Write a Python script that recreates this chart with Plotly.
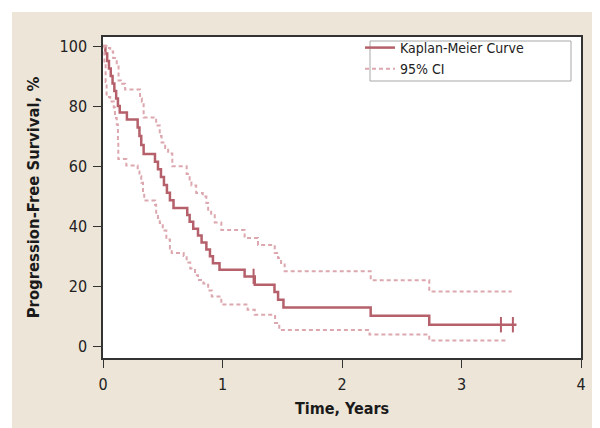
import plotly.graph_objects as go

# ---- data ----
km_time = [0, 0.02, 0.035, 0.05, 0.065, 0.08, 0.095, 0.11, 0.125, 0.14, 0.20,
           0.29, 0.305, 0.32, 0.34, 0.435, 0.46, 0.485, 0.51, 0.535, 0.56, 0.59,
           0.705, 0.725, 0.755, 0.795, 0.825, 0.865, 0.895, 0.92, 0.975,
           1.185, 1.27, 1.435, 1.465, 1.51, 2.24, 2.73, 3.46]
km_surv = [100, 97.5, 95, 92.5, 90, 87.5, 85, 82.5, 80, 77.8, 75.5,
           72.8, 70, 67, 64, 61.4, 58.9, 56.3, 53.7, 51.1, 48.6, 46,
           43.7, 41.4, 39.1, 36.8, 34.5, 32.2, 29.9, 27.6, 25.4,
           23.2, 20.4, 18, 15.4, 12.8, 10.1, 7.1, 7.1]

upper_time = [0, 0.03, 0.06, 0.085, 0.10, 0.115, 0.13, 0.15, 0.185, 0.31, 0.325, 0.34,
              0.445, 0.475, 0.49, 0.52, 0.545, 0.58, 0.70, 0.725, 0.74, 0.78, 0.835,
              0.865, 0.88, 0.905, 0.935, 0.99, 1.185, 1.297, 1.437, 1.465, 1.49, 1.52,
              2.24, 2.73, 3.42]
upper_surv = [100, 99.3, 98.2, 96, 95.3, 93.7, 88.5, 87.4, 85.5, 82.6, 81.4, 76.2,
              73.5, 70, 67.8, 66, 64.2, 59.9, 57.3, 55.5, 53.5, 51, 49.8,
              47.7, 45.4, 43.6, 41.2, 38.7, 36, 33.7, 31, 29.3, 27.2, 24.9,
              21.9, 18.2, 18.2]

lower_time = [0, 0.012, 0.022, 0.03, 0.06, 0.09, 0.10, 0.115, 0.125, 0.128, 0.195,
              0.29, 0.305, 0.32, 0.335, 0.345, 0.435, 0.445, 0.46, 0.475, 0.50,
              0.53, 0.56, 0.575, 0.675, 0.70, 0.73, 0.77, 0.795, 0.84, 0.88, 0.91,
              0.99, 1.21, 1.27, 1.44, 1.475, 2.23, 2.73, 3.39]
lower_surv = [100, 94, 88, 83, 81.5, 79.5, 76, 73.8, 68, 62.3, 60.2,
              58.2, 56.6, 54.4, 51, 48.5, 47.1, 44.4, 42.7, 41, 38.5,
              35.5, 32.5, 31, 30, 27.8, 25.8, 23.6, 22, 20.8, 18.5, 16.5,
              13.8, 12.1, 10.4, 7.7, 5.3, 3.8, 1.8, 1.8]

censor_time = [1.26, 3.33, 3.43]
censor_surv = [23.2, 7.1, 7.1]

x_ticks = [0, 1, 2, 3, 4]
y_ticks = [0, 20, 40, 60, 80, 100]

solid_col = "#B5606B"
dash_col = "#DCA7AE"
beige = "#EDE5D7"
FONT = "Liberation Sans Narrow, DejaVu Sans Condensed, Arial Narrow, sans-serif"

fig = go.Figure()
fig.add_trace(go.Scatter(x=km_time, y=km_surv, mode="lines", line_shape="hv",
                         line=dict(color=solid_col, width=2.5),
                         name="Kaplan-Meier Curve"))
fig.add_trace(go.Scatter(x=upper_time, y=upper_surv, mode="lines", line_shape="hv",
                         line=dict(color=dash_col, width=2, dash="4px,3px"),
                         name="95% CI", legendgroup="ci"))
fig.add_trace(go.Scatter(x=lower_time, y=lower_surv, mode="lines", line_shape="hv",
                         line=dict(color=dash_col, width=2, dash="4px,3px"),
                         name="95% CI", legendgroup="ci", showlegend=False))
fig.add_trace(go.Scatter(x=censor_time, y=censor_surv, mode="markers",
                         marker=dict(symbol="line-ns", size=11,
                                     line=dict(color=solid_col, width=2)),
                         showlegend=False, hoverinfo="skip"))

# plot geometry in pixels
L, R, T, B = 95, 573, 29, 350
W, H = 600, 428
pw, ph = R - L, B - T
def px_x(p):
    return (p - L) / pw
def px_y(p):
    return (B - p) / ph

shapes = [
    dict(type="rect", xref="paper", yref="paper", layer="below",
         x0=px_x(4), x1=px_x(596), y0=px_y(424), y1=px_y(4),
         fillcolor=beige, line=dict(width=0)),
    dict(type="rect", xref="paper", yref="paper", layer="below",
         x0=0, x1=1, y0=0, y1=1, fillcolor="white", line=dict(width=0)),
    dict(type="rect", xref="paper", yref="paper", layer="above",
         x0=px_x(362), x1=px_x(563), y0=px_y(73), y1=px_y(33),
         fillcolor="rgba(0,0,0,0)", line=dict(color="#A8A8A8", width=1)),
]

axis_common = dict(showgrid=False, zeroline=False, showline=True, linecolor="#333333",
                   linewidth=1.5, mirror=True, ticks="outside", ticklen=8,
                   tickcolor="#333333", tickwidth=1.2, ticklabelstandoff=3)

fig.update_layout(
    width=W, height=H,
    margin=dict(l=L, r=W - R, t=T, b=H - B),
    paper_bgcolor="white", plot_bgcolor="white",
    font=dict(family=FONT, size=16, color="#222222"),
    shapes=shapes,
    showlegend=True,
    legend=dict(x=px_x(352), y=px_y(24), xanchor="left", yanchor="top",
                bgcolor="rgba(0,0,0,0)", borderwidth=0,
                font=dict(family=FONT, size=14, color="#222222"),
                tracegroupgap=0, itemwidth=30),
    xaxis=dict(range=[0, 4], tickvals=x_ticks, ticktext=[str(v) for v in x_ticks],
               title=dict(text="<b>Time, Years</b>", standoff=10,
                          font=dict(family=FONT, size=16, color="#1a1a1a")),
               **axis_common),
    yaxis=dict(range=[-4, 103], tickvals=y_ticks, ticktext=[str(v) for v in y_ticks],
               title=dict(text="<b>Progression-Free Survival, %</b>", standoff=16,
                          font=dict(family=FONT, size=16.5, color="#1a1a1a")),
               **axis_common),
)

fig.write_html("out.html")
